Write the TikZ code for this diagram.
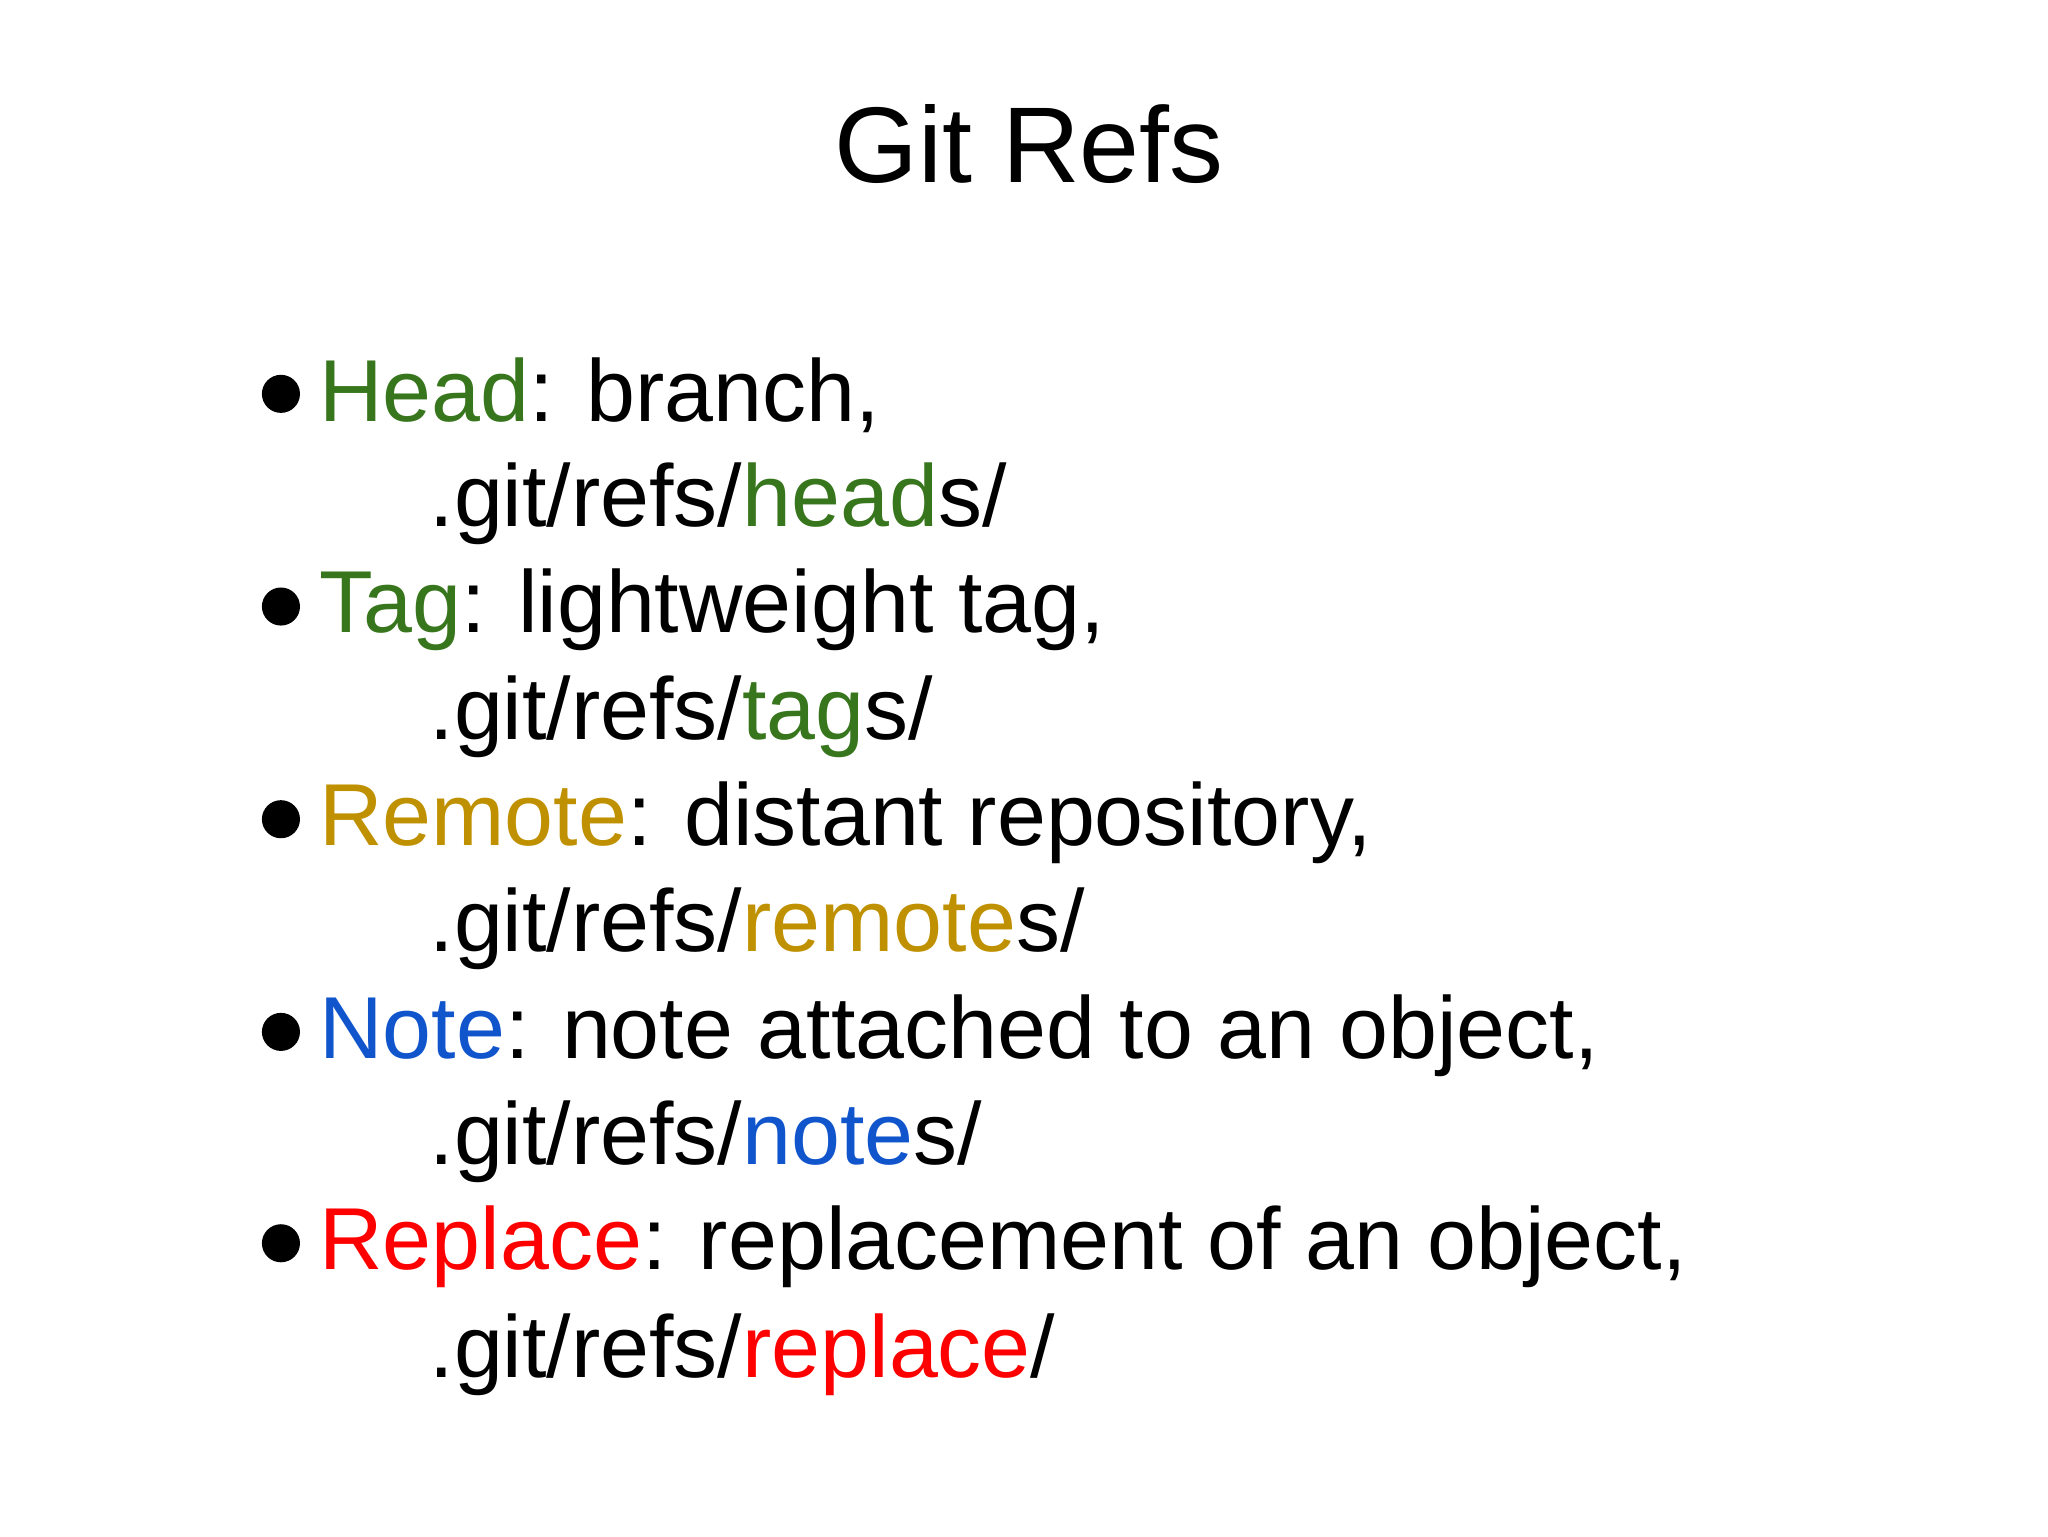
\documentclass[tikz,border=0pt]{standalone}
\usepackage{fontspec}
\setmainfont{Liberation Sans}
\definecolor{gg}{HTML}{38761D}
\definecolor{yy}{HTML}{BF9000}
\definecolor{bb}{HTML}{1155CC}
\definecolor{rr}{HTML}{FF0000}
\begin{document}
\begin{tikzpicture}[x=1pt,y=-1pt,
  txt/.style={anchor=base west,inner sep=0pt,font=\fontsize{67}{67}\selectfont},
  bul/.style={circle,fill=black,minimum size=29pt,inner sep=0pt}]
\useasboundingbox (0,0) rectangle (1560,1170);
\node[anchor=base,inner sep=0pt,font=\fontsize{82}{82}\selectfont] (title) at (784,139) {Git Refs};
\foreach \n/\y in {a/300,b/462,c/624,d/786,e/947}{\node[bul] (bul\n) at (214,\y) {};}
\node[txt] (l1) at (243,321) {\textcolor{gg}{Head}: branch,};
\node[txt] (l2) at (327,401) {.git/refs/\textcolor{gg}{head}s/};
\node[txt] (l3) at (243,482) {\textcolor{gg}{Tag}: lightweight tag,};
\node[txt] (l4) at (327,563) {.git/refs/\textcolor{gg}{tag}s/};
\node[txt] (l5) at (243,644) {\textcolor{yy}{Remote}: distant repository,};
\node[txt] (l6) at (327,725) {.git/refs/\textcolor{yy}{remote}s/};
\node[txt] (l7) at (243,806) {\textcolor{bb}{Note}: note attached to an object,};
\node[txt] (l8) at (327,887) {.git/refs/\textcolor{bb}{note}s/};
\node[txt] (l9) at (243,967) {\textcolor{rr}{Replace}: replacement of an object,};
\node[txt] (l10) at (327,1049) {.git/refs/\textcolor{rr}{replace}/};
\end{tikzpicture}
\end{document}
